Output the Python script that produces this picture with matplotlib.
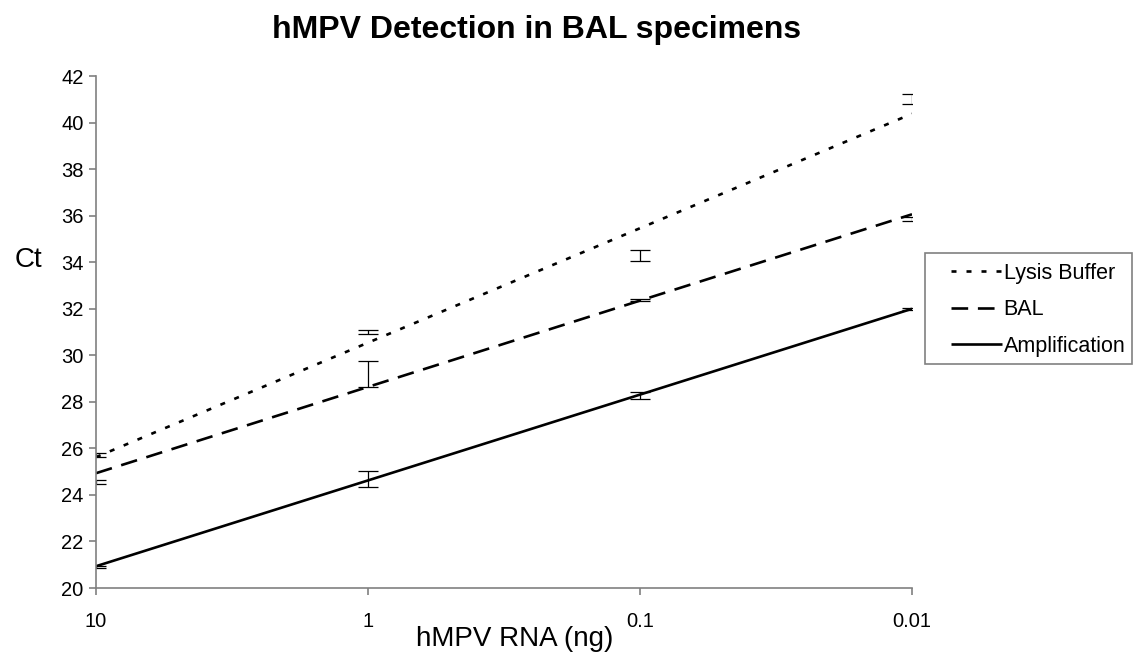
import numpy as np
import matplotlib
matplotlib.use('Agg')
import matplotlib.pyplot as plt
from matplotlib.patches import Rectangle

plt.rcParams['font.family'] = ['Liberation Sans', 'DejaVu Sans']
plt.rcParams['lines.scale_dashes'] = False

rna_labels = ['10', '1', '0.1', '0.01']

lysis_mean = [25.72, 31.0, 34.3, 41.03]
lysis_err = [0.1, 0.08, 0.25, 0.2]
bal_mean = [24.56, 29.2, 32.39, 35.87]
bal_err = [0.1, 0.55, 0.05, 0.1]
amp_mean = [20.9, 24.69, 28.3, 32.0]
amp_err = [0.06, 0.36, 0.15, 0.05]

series = [('Lysis Buffer', lysis_mean, lysis_err, (0, (3.6, 7.2))),
          ('BAL', bal_mean, bal_err, (0, (12, 7))),
          ('Amplification', amp_mean, amp_err, '-')]

fig = plt.figure(figsize=(11.34, 6.57), dpi=100)
ax = fig.add_axes([96/1134, 1-588/657, (912-96)/1134, (588-76.5)/657])

x = np.arange(len(rna_labels))
for name, mean, err, ls in series:
    # linear trendline through the means, like excel
    coef = np.polyfit(x, mean, 1)
    ax.plot(x, np.polyval(coef, x), color='black', lw=1.9, linestyle=ls,
            label=name, solid_capstyle='butt', dash_capstyle='butt')
    ax.errorbar(x, mean, yerr=err, fmt='none', ecolor='black', elinewidth=0.9,
                capsize=7, capthick=0.9)

ax.set_xlim(0, 3)
ax.set_ylim(20, 42)
ax.set_yticks(np.arange(20, 43, 2))
ax.set_xticks(x)
ax.set_xticklabels(rna_labels)
for side in ['top', 'right']:
    ax.spines[side].set_visible(False)
for side in ['left', 'bottom']:
    ax.spines[side].set_color('#808080')
    ax.spines[side].set_linewidth(1.2)
ax.tick_params(axis='both', direction='out', length=5, width=1.2, color='#808080',
               labelsize=14.5)
ax.tick_params(axis='y', pad=4)
ax.tick_params(axis='x', pad=12)

fig.text(537/1134, 1-30/657, 'hMPV Detection in BAL specimens', ha='center',
         va='center', fontsize=23, fontweight='bold')
fig.text(515/1134, 1-639/657, 'hMPV RNA (ng)', ha='center', va='center', fontsize=20)
fig.text(28/1134, 1-260/657, 'Ct', ha='center', va='center', fontsize=20)

# legend frame drawn separately so the handles can sit inset like excel's
fig.patches.append(Rectangle((925/1134, 1-364/657), (1132-925)/1134, (364-253)/657,
                             transform=fig.transFigure, fill=False,
                             edgecolor='#808080', linewidth=1.2))
leg = ax.legend(loc='upper left', bbox_to_anchor=(951/1134, 1-263/657),
                bbox_transform=fig.transFigure, fontsize=15.5, frameon=False,
                handlelength=2.35, handletextpad=0.1,
                labelspacing=0.72, borderpad=0.0, borderaxespad=0)

fig.savefig('out.png', dpi=100)
